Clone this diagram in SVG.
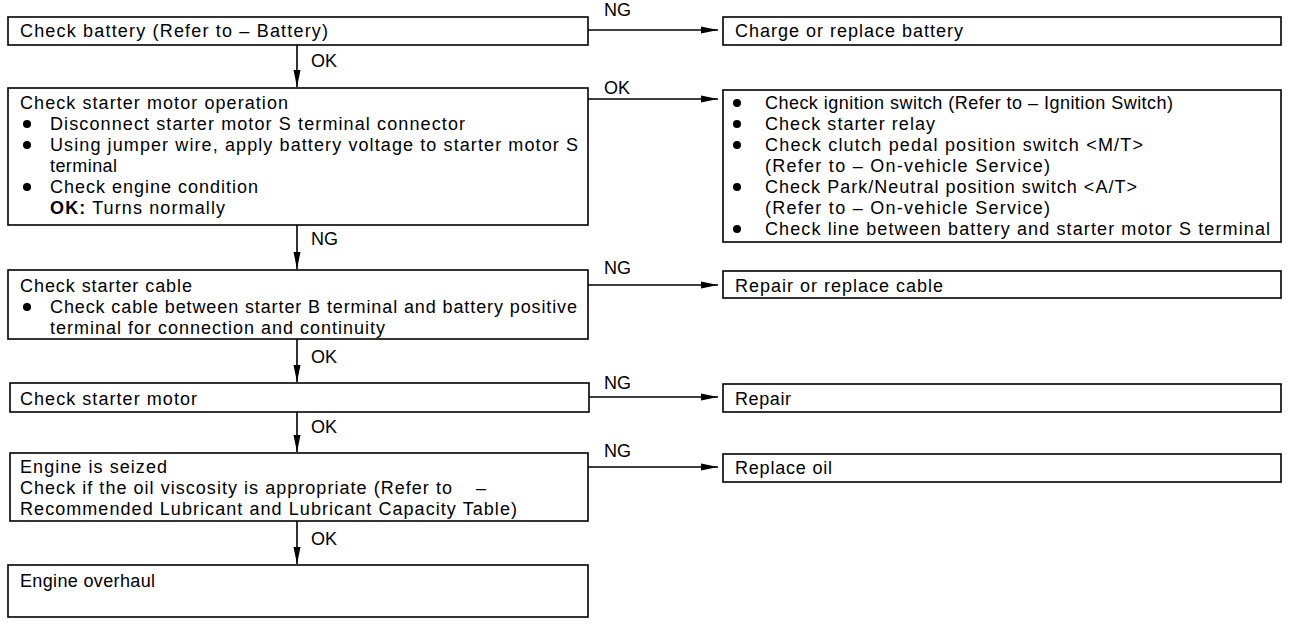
<svg xmlns="http://www.w3.org/2000/svg" width="1296" height="624" viewBox="0 0 1296 624">
<defs>
<marker id="ah" viewBox="0 0 17 8" refX="17" refY="4" markerWidth="17" markerHeight="8" markerUnits="userSpaceOnUse" orient="auto">
<path d="M0,0.5 L17,4 L0,7.5 z" fill="#000"/>
</marker>
<style>
rect{fill:#fff;stroke:#000;stroke-width:1.6}
text{font-family:"Liberation Sans",Arial,Helvetica,sans-serif;font-size:18px;fill:#000}
.b{fill:#000;stroke:none}
.c line{stroke:#000;stroke-width:1.6;marker-end:url(#ah)}
</style>
</defs>
<rect x="0" y="0" width="1296" height="624" style="fill:#fff;stroke:none"/>

<g id="n1">
<rect x="8" y="17" width="580" height="28"/>
<text x="20" y="37" textLength="308" lengthAdjust="spacing">Check battery (Refer to – Battery)</text>
</g>
<g id="n1r">
<rect x="723" y="17" width="558" height="28"/>
<text x="735" y="37" textLength="228" lengthAdjust="spacing">Charge or replace battery</text>
</g>

<g id="n2">
<rect x="8" y="88" width="580" height="137"/>
<text x="20" y="109" textLength="268" lengthAdjust="spacing">Check starter motor operation</text>
<circle class="b" cx="27" cy="124" r="4"/>
<text x="50" y="130" textLength="415" lengthAdjust="spacing">Disconnect starter motor S terminal connector</text>
<circle class="b" cx="27" cy="145" r="4"/>
<text x="50" y="151" textLength="528" lengthAdjust="spacing">Using jumper wire, apply battery voltage to starter motor S</text>
<text x="50" y="172" textLength="67" lengthAdjust="spacing">terminal</text>
<circle class="b" cx="27" cy="187" r="4"/>
<text x="50" y="193" textLength="208" lengthAdjust="spacing">Check engine condition</text>
<text x="50" y="214" textLength="175" lengthAdjust="spacing"><tspan font-weight="bold">OK:</tspan> Turns normally</text>
</g>
<g id="n2r">
<rect x="723" y="90" width="558" height="152"/>
<circle class="b" cx="737" cy="103" r="4"/>
<text x="765" y="109" textLength="408" lengthAdjust="spacing">Check ignition switch (Refer to – Ignition Switch)</text>
<circle class="b" cx="737" cy="124" r="4"/>
<text x="765" y="130" textLength="170" lengthAdjust="spacing">Check starter relay</text>
<circle class="b" cx="737" cy="145" r="4"/>
<text x="765" y="151" textLength="378" lengthAdjust="spacing">Check clutch pedal position switch &lt;M/T&gt;</text>
<text x="765" y="172" textLength="285" lengthAdjust="spacing">(Refer to – On-vehicle Service)</text>
<circle class="b" cx="737" cy="187" r="4"/>
<text x="765" y="193" textLength="372" lengthAdjust="spacing">Check Park/Neutral position switch &lt;A/T&gt;</text>
<text x="765" y="214" textLength="285" lengthAdjust="spacing">(Refer to – On-vehicle Service)</text>
<circle class="b" cx="737" cy="229" r="4"/>
<text x="765" y="235" textLength="505" lengthAdjust="spacing">Check line between battery and starter motor S terminal</text>
</g>

<g id="n3">
<rect x="8" y="270" width="580" height="69"/>
<text x="20" y="292" textLength="172" lengthAdjust="spacing">Check starter cable</text>
<circle class="b" cx="27" cy="307" r="4"/>
<text x="50" y="313" textLength="527" lengthAdjust="spacing">Check cable between starter B terminal and battery positive</text>
<text x="50" y="334" textLength="335" lengthAdjust="spacing">terminal for connection and continuity</text>
</g>
<g id="n3r">
<rect x="723" y="271" width="558" height="27"/>
<text x="735" y="292" textLength="208" lengthAdjust="spacing">Repair or replace cable</text>
</g>

<g id="n4">
<rect x="10" y="383" width="579" height="29"/>
<text x="20" y="405" textLength="177" lengthAdjust="spacing">Check starter motor</text>
</g>
<g id="n4r">
<rect x="723" y="384" width="558" height="28"/>
<text x="735" y="405" textLength="56" lengthAdjust="spacing">Repair</text>
</g>

<g id="n5">
<rect x="10" y="453" width="578" height="68"/>
<text x="20" y="473" textLength="147" lengthAdjust="spacing">Engine is seized</text>
<text x="20" y="494" textLength="432" lengthAdjust="spacing">Check if the oil viscosity is appropriate (Refer to</text>
<text x="476" y="494">–</text>
<text x="20" y="515" textLength="497" lengthAdjust="spacing">Recommended Lubricant and Lubricant Capacity Table)</text>
</g>
<g id="n5r">
<rect x="723" y="454" width="558" height="28"/>
<text x="735" y="474" textLength="97" lengthAdjust="spacing">Replace oil</text>
</g>

<g id="n6">
<rect x="8" y="565" width="580" height="52"/>
<text x="20" y="587" textLength="135" lengthAdjust="spacing">Engine overhaul</text>
</g>

<g id="connectors" class="c">
<line x1="588" y1="30" x2="718" y2="30"/>
<line x1="588" y1="99" x2="718" y2="99"/>
<line x1="588" y1="285" x2="718" y2="285"/>
<line x1="589" y1="397" x2="718" y2="397"/>
<line x1="588" y1="467" x2="718" y2="467"/>
<line x1="297" y1="45" x2="297" y2="87"/>
<line x1="297" y1="225" x2="297" y2="269"/>
<line x1="297" y1="339" x2="297" y2="382"/>
<line x1="297" y1="412" x2="297" y2="452"/>
<line x1="297" y1="521" x2="297" y2="564"/>
<text x="604" y="16">NG</text>
<text x="604" y="94">OK</text>
<text x="604" y="274">NG</text>
<text x="604" y="389">NG</text>
<text x="604" y="457">NG</text>
<text x="311" y="67">OK</text>
<text x="311" y="245">NG</text>
<text x="311" y="363">OK</text>
<text x="311" y="433">OK</text>
<text x="311" y="545">OK</text>
</g>
</svg>
